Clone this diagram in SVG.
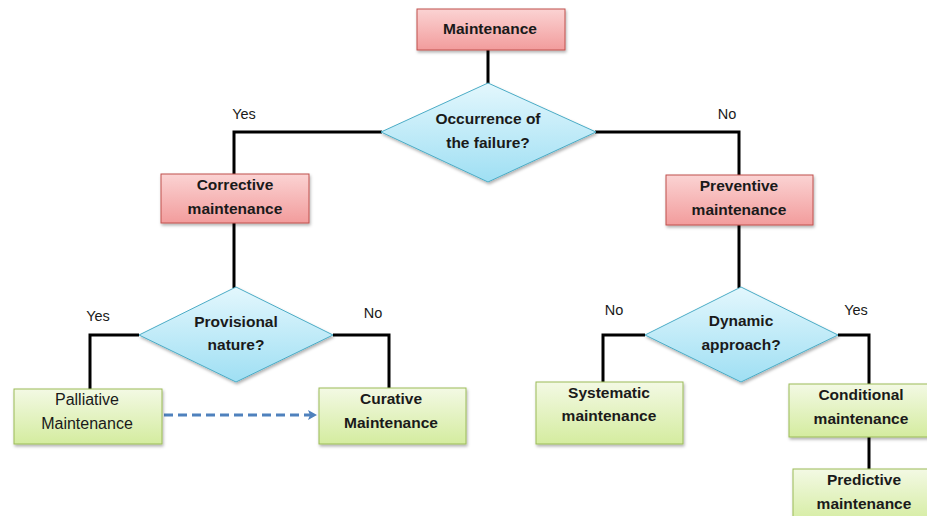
<svg xmlns="http://www.w3.org/2000/svg" width="927" height="516" viewBox="0 0 927 516">
<defs>
<linearGradient id="gPink" x1="0" y1="0" x2="0" y2="1"><stop offset="0" stop-color="#fbd3d3"/><stop offset="1" stop-color="#f29c9c"/></linearGradient>
<linearGradient id="gGreen" x1="0" y1="0" x2="0" y2="1"><stop offset="0" stop-color="#f3f9e4"/><stop offset="1" stop-color="#d4ec9f"/></linearGradient>
<linearGradient id="gBlue" x1="0" y1="0" x2="0" y2="1"><stop offset="0" stop-color="#e3f7fd"/><stop offset="1" stop-color="#9fdff3"/></linearGradient>
<filter id="sh" x="-10%" y="-10%" width="130%" height="140%"><feDropShadow dx="1" dy="2" stdDeviation="1.5" flood-color="#000" flood-opacity="0.3"/></filter>
<marker id="arr" markerWidth="10" markerHeight="10" refX="8" refY="5" orient="auto" markerUnits="userSpaceOnUse"><path d="M0,0 L9,5 L0,10 L2,5 Z" fill="#4f81bd"/></marker>
<style>
.pink{fill:url(#gPink);stroke:#c0504d;stroke-width:1;filter:url(#sh)}
.green{fill:url(#gGreen);stroke:#9bbb59;stroke-width:1;filter:url(#sh)}
.dia{fill:url(#gBlue);stroke:#4bacc6;stroke-width:1;filter:url(#sh)}
.t{font-family:"Liberation Sans",Arial,sans-serif;font-size:15.5px;font-weight:bold;fill:#1a1a1a;text-anchor:middle}
.r{font-family:"Liberation Sans",Arial,sans-serif;font-size:16px;fill:#1a1a1a;text-anchor:middle}
.lab{font-family:"Liberation Sans",Arial,sans-serif;font-size:14.5px;fill:#1a1a1a;text-anchor:middle}
.ln{fill:none;stroke:#000;stroke-width:3}
</style>
</defs>
<g id="connectors">
<path class="ln" d="M488,50 V84"/>
<path class="ln" d="M382,132 H234 V174"/>
<path class="ln" d="M595,132 H739 V175"/>
<path class="ln" d="M234,223 V288"/>
<path class="ln" d="M139,335 H90 V389"/>
<path class="ln" d="M333,335 H389 V388"/>
<path class="ln" d="M739,225 V288"/>
<path class="ln" d="M645,335 H603 V382"/>
<path class="ln" d="M838,335 H869 V384"/>
<path class="ln" d="M869,437 V469"/>
<path d="M164,415 H316" fill="none" stroke="#4f81bd" stroke-width="3" stroke-dasharray="9,5" marker-end="url(#arr)"/>
</g>
<g id="labels">
<text class="lab" x="244" y="119">Yes</text>
<text class="lab" x="727" y="119">No</text>
<text class="lab" x="98" y="321">Yes</text>
<text class="lab" x="373" y="318">No</text>
<text class="lab" x="614" y="315">No</text>
<text class="lab" x="856" y="315">Yes</text>
</g>
<g id="maintenance"><rect class="pink" x="417" y="9" width="148" height="41"/><text class="t" x="490" y="34">Maintenance</text></g>
<g id="occurrence"><polygon class="dia" points="488,83 596,132 488,182 381,132"/><text class="t" x="488" y="124">Occurrence of</text><text class="t" x="488" y="148">the failure?</text></g>
<g id="corrective"><rect class="pink" x="161" y="174" width="148" height="49"/><text class="t" x="235" y="190">Corrective</text><text class="t" x="235" y="214">maintenance</text></g>
<g id="preventive"><rect class="pink" x="666" y="175" width="147" height="50"/><text class="t" x="739" y="191">Preventive</text><text class="t" x="739" y="215">maintenance</text></g>
<g id="provisional"><polygon class="dia" points="236,287 333,335 236,382 139,335"/><text class="t" x="236" y="327">Provisional</text><text class="t" x="236" y="350">nature?</text></g>
<g id="dynamic"><polygon class="dia" points="741,287 838,335 741,382 645,335"/><text class="t" x="741" y="326">Dynamic</text><text class="t" x="741" y="350">approach?</text></g>
<g id="palliative"><rect class="green" x="14" y="389" width="148" height="55"/><text class="r" x="87" y="405">Palliative</text><text class="r" x="87" y="429">Maintenance</text></g>
<g id="curative"><rect class="green" x="319" y="388" width="147" height="56"/><text class="t" x="391" y="404">Curative</text><text class="t" x="391" y="428">Maintenance</text></g>
<g id="systematic"><rect class="green" x="536" y="382" width="147" height="62"/><text class="t" x="609" y="398">Systematic</text><text class="t" x="609" y="421">maintenance</text></g>
<g id="conditional"><rect class="green" x="789" y="384" width="145" height="53"/><text class="t" x="861" y="400">Conditional</text><text class="t" x="861" y="424">maintenance</text></g>
<g id="predictive"><rect class="green" x="793" y="469" width="141" height="55"/><text class="t" x="864" y="485">Predictive</text><text class="t" x="864" y="509">maintenance</text></g>
</svg>
